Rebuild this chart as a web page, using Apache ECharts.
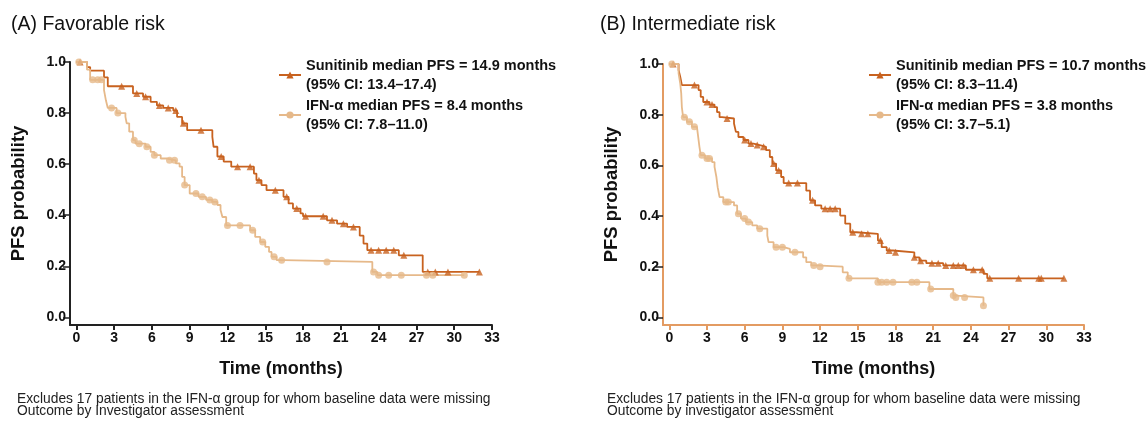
<!DOCTYPE html>
<html>
<head>
<meta charset="utf-8">
<script src="https://cdn.jsdelivr.net/npm/echarts@6/dist/echarts.min.js"></script>
<style>
html,body{margin:0;padding:0;background:#fff;}
#c{width:1148px;height:423px;}
</style>
</head>
<body>
<div id="c"></div>
<script>
// ---- Data ----
const xTicks = [0,3,6,9,12,15,18,21,24,27,30,33];
const yTicks = [0,0.2,0.4,0.6,0.8,1.0];

// (A) Favorable risk – Sunitinib KM step curve
const favSunT = [0,0.85,1.1,2.2,2.5,4.5,5.3,5.9,6.4,6.9,7.7,8.0,8.4,8.8,10.8,10.9,11.2,11.7,12.3,14.1,14.3,14.7,15.1,16.45,16.85,17.2,17.8,18.0,19.9,20.7,21.5,22.5,22.8,23.1,25.6,27.5,32.0];
const favSunS = [1.0,0.98,0.966,0.94,0.905,0.877,0.864,0.844,0.83,0.82,0.81,0.785,0.76,0.733,0.707,0.668,0.63,0.61,0.59,0.563,0.537,0.518,0.498,0.472,0.446,0.426,0.407,0.396,0.38,0.367,0.354,0.32,0.289,0.263,0.243,0.178,0.178];
const favSunCens = [0.3,3.6,4.8,5.5,6.6,7.3,7.9,8.5,9.9,11.5,12.8,13.8,14.5,15.8,16.7,17.5,18.2,19.6,20.3,21.2,22.0,23.4,24.0,24.6,25.2,26.0,27.9,28.5,29.5,32.0];
// (A) Favorable risk – IFN-α
const favIfnT = [0,0.85,1.1,2.2,2.35,2.5,3.2,3.9,4.0,4.2,4.5,4.7,5.5,5.9,6.2,6.7,7.2,7.9,8.2,8.4,8.6,9.0,9.7,10.3,10.8,11.2,11.45,11.6,11.9,13.8,14.2,14.6,15.0,15.3,15.5,15.9,16.45,23.5,23.9,30.8];
const favIfnS = [1.0,0.97,0.93,0.89,0.85,0.82,0.80,0.785,0.76,0.727,0.694,0.68,0.668,0.648,0.635,0.622,0.615,0.603,0.59,0.55,0.518,0.485,0.472,0.46,0.452,0.44,0.42,0.393,0.36,0.341,0.315,0.295,0.276,0.256,0.237,0.224,0.217,0.178,0.165,0.165];
const favIfnCens = [0.2,1.3,1.7,2.0,2.8,3.3,4.6,5.0,5.6,6.2,7.4,7.8,8.6,9.5,10.0,10.6,11.0,12.0,13.0,14.0,14.8,15.7,16.3,19.9,23.6,24.0,24.8,25.8,27.8,28.3,30.8];

// (B) Intermediate risk – Sunitinib
const intSunT = [0,0.74,0.87,1.0,2.33,2.5,2.7,3.2,3.6,3.8,4.0,4.2,5.15,5.3,5.5,5.9,6.3,6.7,7.2,7.7,8.0,8.2,8.5,8.9,9.1,10.9,11.2,11.6,12.1,13.6,14.0,14.4,14.9,16.6,16.9,17.3,17.8,19.5,19.9,20.45,21.8,23.6,25.0,25.3,31.4];
const intSunS = [1.0,0.976,0.95,0.917,0.897,0.87,0.85,0.84,0.83,0.81,0.79,0.785,0.765,0.732,0.712,0.70,0.686,0.68,0.673,0.66,0.633,0.607,0.58,0.554,0.53,0.50,0.462,0.442,0.429,0.402,0.37,0.336,0.33,0.303,0.277,0.264,0.257,0.237,0.224,0.214,0.205,0.188,0.172,0.154,0.154];
const intSunCens = [0.3,2.0,3.0,3.4,4.6,6.0,6.5,7.0,7.5,8.3,8.7,9.5,10.2,11.4,12.4,12.8,13.2,14.6,15.3,15.8,16.8,17.5,18.0,19.5,20.0,20.9,21.4,22.0,22.6,23.0,23.4,24.2,24.9,25.5,27.8,29.4,29.6,31.4];
// (B) Intermediate risk – IFN-α
const intIfnT = [0,0.74,0.87,0.95,1.0,1.1,1.4,1.8,2.2,2.3,2.4,2.5,2.85,3.4,3.6,3.75,3.85,4.0,4.3,5.15,5.4,5.7,6.1,6.6,7.0,7.8,7.9,8.3,9.1,9.6,10.65,10.9,11.3,11.7,13.8,14.2,16.6,20.7,22.6,22.8,25.0];
const intIfnS = [1.0,0.963,0.924,0.884,0.83,0.79,0.772,0.752,0.745,0.712,0.673,0.64,0.627,0.613,0.594,0.554,0.514,0.475,0.455,0.442,0.409,0.39,0.376,0.363,0.35,0.323,0.297,0.277,0.27,0.257,0.237,0.218,0.205,0.2,0.178,0.154,0.139,0.112,0.086,0.079,0.046];
const intIfnCens = [0.2,1.2,1.6,2.0,2.6,3.0,3.2,4.5,4.7,5.5,6.0,6.3,7.2,8.5,9.0,10.0,11.5,12.0,14.3,16.6,16.9,17.3,17.8,19.3,19.7,20.8,22.6,22.8,23.5,25.0];

const panelTitles = ['(A) Favorable risk','(B) Intermediate risk'];
const sunNames = ['Sunitinib median PFS = 14.9 months','Sunitinib median PFS = 10.7 months'];
const ifnNames = ['IFN-\u03b1 median PFS = 8.4 months','IFN-\u03b1 median PFS = 3.8 months'];
const ciTexts = {};
ciTexts[sunNames[0]] = '(95% CI: 13.4\u201317.4)';
ciTexts[ifnNames[0]] = '(95% CI: 7.8\u201311.0)';
ciTexts[sunNames[1]] = '(95% CI: 8.3\u201311.4)';
ciTexts[ifnNames[1]] = '(95% CI: 3.7\u20135.1)';
const footLines = [
  'Excludes 17 patients in the IFN-\u03b1 group for whom baseline data were missing\nOutcome by Investigator assessment',
  'Excludes 17 patients in the IFN-\u03b1 group for whom baseline data were missing\nOutcome by investigator assessment'
];

// ---- Helpers ----
function pairs(T,S){ return T.map((t,i)=>[t,S[i]]); }
function survAt(T,S,t){ let v=S[0]; for(let i=0;i<T.length;i++){ if(T[i]<=t) v=S[i]; } return v; }
function cens(T,S,C){ return C.map(t=>[t,survAt(T,S,t)]); }

const SUN = '#C8621F';
const IFN = '#E6B98A';
const FONT = '"Liberation Sans", Arial, Helvetica, sans-serif';
const axisCols = ['#222222','#E39B62'];

function xAxis(i){
  return {
    gridIndex:i, type:'value', min:-0.5, max:33,
    axisLine:{show:true, onZero:false, lineStyle:{color:axisCols[i], width:2}},
    axisTick:{show:true, customValues:xTicks, length:5, lineStyle:{color:axisCols[i], width:2}},
    axisLabel:{customValues:xTicks, color:'#111', fontWeight:'bold', fontSize:14, fontFamily:FONT, margin:6},
    splitLine:{show:false},
    name:'Time (months)', nameLocation:'middle', nameGap:35,
    nameTextStyle:{fontSize:18, fontWeight:'bold', color:'#111', fontFamily:FONT}
  };
}
function yAxis(i){
  return {
    gridIndex:i, type:'value', min:-0.03, max:1.0,
    axisLine:{show:true, onZero:false, lineStyle:{color:axisCols[i], width:2}},
    axisTick:{show:true, customValues:yTicks, length:7, lineStyle:{color:'#222', width:1.5}},
    axisLabel:{customValues:yTicks, formatter:v=>v.toFixed(1), color:'#111', fontWeight:'bold', fontSize:14, fontFamily:FONT, margin:4},
    splitLine:{show:false},
    name:'PFS probability', nameLocation:'middle', nameGap:42, nameRotate:90,
    nameTextStyle:{fontSize:18.5, fontWeight:'bold', color:'#111', fontFamily:FONT}
  };
}
function lineSeries(name,i,T,S,color,sym){
  return {name:name, type:'line', xAxisIndex:i, yAxisIndex:i, step:'end', data:pairs(T,S),
    symbol:sym, symbolSize:8, showSymbol:false, lineStyle:{color:color, width:1.8}, itemStyle:{color:color},
    animation:false, silent:true, z:2};
}
function censSeries(i,T,S,C,color,sym,size){
  return {type:'scatter', xAxisIndex:i, yAxisIndex:i, data:cens(T,S,C), symbol:sym, symbolSize:size,
    itemStyle:{color:color}, animation:false, silent:true, z:3};
}
function legend(i,left){
  return {
    left:left, top:53, orient:'vertical', itemWidth:22, itemHeight:9, itemGap:6,
    data:[sunNames[i], ifnNames[i]],
    formatter:n=>'{a|'+n+'}\n{a|'+ciTexts[n]+'}',
    textStyle:{rich:{a:{fontSize:14.5, fontWeight:'bold', color:'#111', fontFamily:FONT, lineHeight:19}}},
    selectedMode:false
  };
}

const chart = echarts.init(document.getElementById('c'), null, {renderer:'canvas'});
chart.setOption({
  backgroundColor:'#fff',
  animation:false,
  title:[
    {text:panelTitles[0], left:6, top:10, textStyle:{fontSize:19.5, fontWeight:'normal', color:'#111', fontFamily:FONT}},
    {text:panelTitles[1], left:595, top:10, textStyle:{fontSize:19.5, fontWeight:'normal', color:'#111', fontFamily:FONT}},
    {text:footLines[0], left:12, top:388, textStyle:{fontSize:13.8, fontWeight:'normal', color:'#222', fontFamily:FONT, lineHeight:12}},
    {text:footLines[1], left:602, top:388, textStyle:{fontSize:13.8, fontWeight:'normal', color:'#222', fontFamily:FONT, lineHeight:12}}
  ],
  legend:[legend(0,273), legend(1,863)],
  grid:[
    {left:70, width:422, top:62, height:263},
    {left:663, width:421, top:64, height:261}
  ],
  xAxis:[xAxis(0), xAxis(1)],
  yAxis:[yAxis(0), yAxis(1)],
  series:[
    lineSeries(sunNames[0],0,favSunT,favSunS,SUN,'triangle'),
    lineSeries(ifnNames[0],0,favIfnT,favIfnS,IFN,'circle'),
    censSeries(0,favSunT,favSunS,favSunCens,SUN,'triangle',7),
    censSeries(0,favIfnT,favIfnS,favIfnCens,IFN,'circle',7),
    lineSeries(sunNames[1],1,intSunT,intSunS,SUN,'triangle'),
    lineSeries(ifnNames[1],1,intIfnT,intIfnS,IFN,'circle'),
    censSeries(1,intSunT,intSunS,intSunCens,SUN,'triangle',7),
    censSeries(1,intIfnT,intIfnS,intIfnCens,IFN,'circle',7)
  ]
});
</script>
</body>
</html>
